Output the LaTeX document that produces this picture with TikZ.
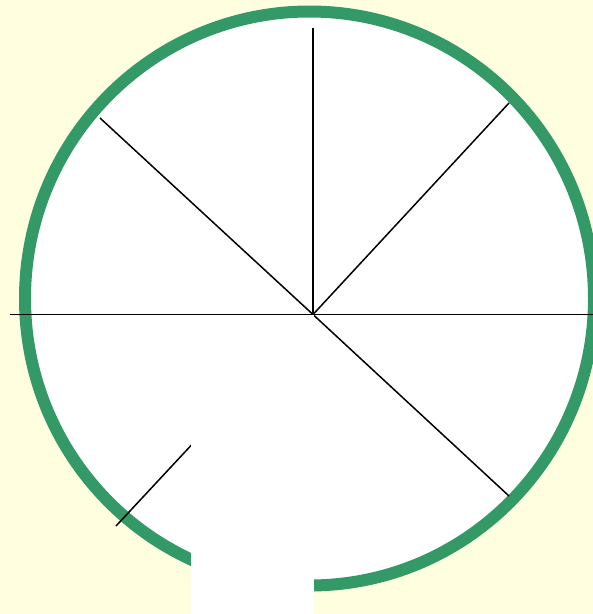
\documentclass[tikz,border=0pt]{standalone}
\usepackage{xcolor}
\usepackage{tikz}
\definecolor{paleyellow}{HTML}{FFFFE0}
\definecolor{rimgreen}{HTML}{339966}
\tikzset{
  wheelpicture/.style={x=1pt, y=-1pt},
  wheelrim/.style={draw=rimgreen, line width=12pt, fill=white},
  wheelspoke/.style={draw=black, line width=1.5pt},
  wheelgap/.style={fill=white, draw=none}
}

\begin{document}
\begin{tikzpicture}[wheelpicture]
\fill[paleyellow] (0,0) rectangle (593,614);
\useasboundingbox (0,0) rectangle (593,614);
\draw[wheelrim] (309.5,298.5) ellipse [x radius=284.5, y radius=287];
\coordinate (hub) at (313,314.5);
\coordinate (north) at (313,28);
\coordinate (northeast) at (509,103);
\coordinate (east) at (593,314.5);
\coordinate (southeast) at (509,496);
\coordinate (southwest) at (116,526);
\coordinate (west) at (10,314.5);
\coordinate (northwest) at (100,118);
\foreach \spoke in {north,northeast,east,southeast,southwest,west,northwest}
  \draw[wheelspoke] (hub) -- (\spoke);
% white block over the lower left part
\fill[wheelgap] (191,314.5) rectangle (313.5,614);
\end{tikzpicture}
\end{document}
